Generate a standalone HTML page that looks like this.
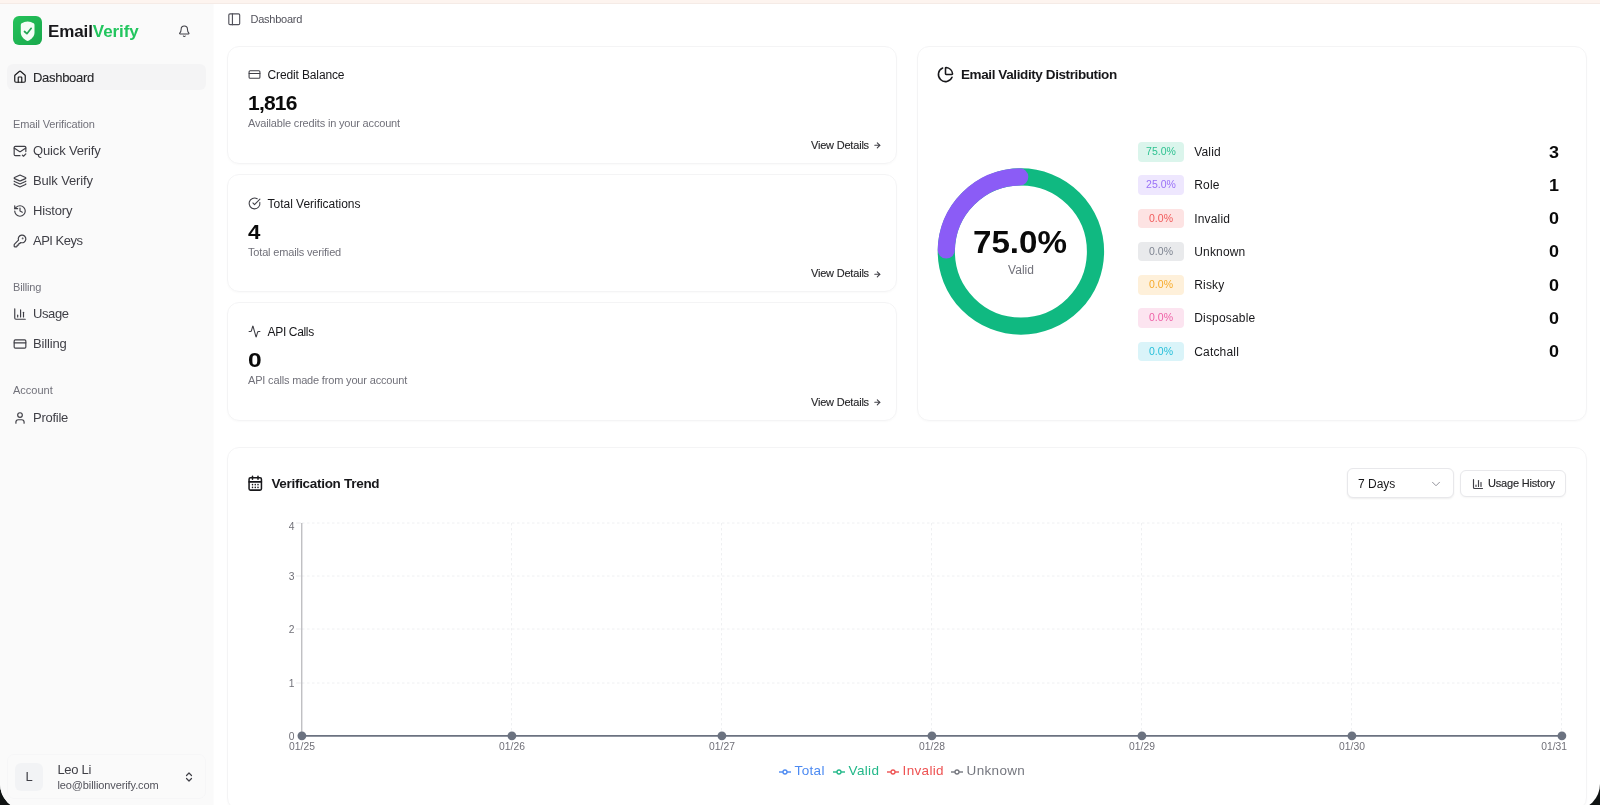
<!DOCTYPE html>
<html lang="en">
<head>
<meta charset="utf-8">
<title>Dashboard</title>
<style>
*{box-sizing:border-box;margin:0;padding:0}
html,body{width:1600px;height:805px;overflow:hidden;background:#101413}
body{font-family:"Liberation Sans",sans-serif;color:#18181b;position:relative}
#win{position:absolute;left:0;top:0;width:1600px;height:810px;background:#fff;border-radius:0 0 26px 26px;overflow:hidden}
.abs{position:absolute}
.t{position:absolute;white-space:nowrap;line-height:1}
svg{position:absolute;overflow:visible}
.ic{fill:none;stroke:#3f3f46;stroke-width:2;stroke-linecap:round;stroke-linejoin:round}
.dk{stroke:#18181b}
#topbar{z-index:2;position:absolute;left:0;top:0;width:1600px;height:3.5px;background:#fdf4ef;border-bottom:1px solid #f5ebe6}
#sidebg{position:absolute;left:0;top:3px;width:214px;height:807px;background:#fafafa;border-right:1px solid #fcfcfc}
#side{position:absolute;left:0;top:3px;width:213px;height:807px;will-change:transform}
#main{position:absolute;left:0;top:0;width:1600px;height:810px;will-change:transform}
.nav{font-size:13px;color:#3f3f46;left:33px;letter-spacing:-0.15px}
.sec{font-size:11px;color:#71717a;left:13px;letter-spacing:-0.15px}
.card{position:absolute;background:#fff;border:1px solid #f4f4f5;border-radius:12px;box-shadow:0 1px 2px rgba(0,0,0,.025)}
.ct{font-size:12px;color:#18181b;left:267.6px}
.num{font-size:21px;font-weight:bold;color:#0a0a0a;left:248px;transform-origin:0 50%}
.desc{font-size:11px;color:#71717a;left:248px;letter-spacing:-0.17px}
.vd{font-size:11px;color:#27272a;left:811px;letter-spacing:-0.2px;-webkit-text-stroke:0.12px #27272a}
.badge{position:absolute;left:1138px;width:46px;height:19.4px;border-radius:4px;font-size:10.5px;line-height:19.4px;text-align:center}
.badge span{opacity:.85}
.lbl{font-size:12px;color:#18181b;left:1194.2px;letter-spacing:0.18px}
.cnt{font-size:16px;font-weight:bold;color:#0a0a0a;right:40.8px;transform:scaleX(1.12);transform-origin:100% 50%}
.ax{font-size:10.3px;color:#707078}
</style>
</head>
<body>
<div id="win">
<div id="topbar"></div>
<div id="sidebg"></div>
<div id="side">
<svg style="left:13.4px;top:13.3px" width="29" height="29" viewBox="0 0 29 29"><defs><linearGradient id="lg" x1="0" y1="0" x2="1" y2="1"><stop offset="0" stop-color="#25c25a"/><stop offset="1" stop-color="#18a84c"/></linearGradient></defs><rect x="0" y="0" width="29" height="29" rx="6" fill="url(#lg)"/><path d="M14.65 5.4 C12.5 5.6 10.2 6.2 8.6 7.2 C8 7.6 7.8 8.2 7.8 9 L7.8 16.5 C7.8 20.5 10.8 23.3 14.65 25.1 C18.5 23.3 21.5 20.5 21.5 16.5 L21.5 9 C21.5 8.2 21.3 7.6 20.7 7.2 C19.1 6.2 16.8 5.6 14.65 5.4 Z" fill="#f3fdf6"/><path d="M11.5 15.5 L13.9 17.7 L18.2 12.3" fill="none" stroke="#21a652" stroke-width="1.7" stroke-linecap="round" stroke-linejoin="round"/></svg>
<div class="t" style="left:48px;top:20px;font-size:17px;font-weight:bold;color:#18181b;letter-spacing:-0.1px">Email<span style="color:#22c55e">Verify</span></div>
<svg style="left:178px;top:21.7px" width="12.6" height="12.6" viewBox="0 0 24 24" class="ic"><path d="M10.27 21a2 2 0 0 0 3.46 0"/><path d="M3.26 15.33A1 1 0 0 0 4 17h16a1 1 0 0 0 .74-1.67C19.41 13.96 18 12.50 18 8A6 6 0 0 0 6 8c0 4.50-1.41 5.96-2.74 7.33"/></svg>
<div class="abs" style="left:7px;top:61px;width:199px;height:26px;border-radius:6px;background:#f4f4f5"></div>
<svg style="left:13px;top:67px" width="14" height="14" viewBox="0 0 24 24" class="ic dk"><path d="M15 21v-8a1 1 0 0 0-1-1h-4a1 1 0 0 0-1 1v8"/><path d="M3 10a2 2 0 0 1 .709-1.53l7-6.00a2 2 0 0 1 2.58 0l7 6.00A2 2 0 0 1 21 10v9a2 2 0 0 1-2 2H5a2 2 0 0 1-2-2z"/></svg>
<div class="t nav" style="top:68px;color:#18181b;letter-spacing:-0.3px;color:#27272a;-webkit-text-stroke:0.12px #27272a">Dashboard</div>
<div class="t sec" style="top:116px">Email Verification</div>
<svg style="left:13px;top:141px" width="14" height="14" viewBox="0 0 24 24" class="ic"><path d="M22 13V6a2 2 0 0 0-2-2H4a2 2 0 0 0-2 2v12c0 1.10.9 2 2 2h8"/><path d="m22 7-8.97 5.70a1.94 1.94 0 0 1-2.06 0L2 7"/><path d="m16 19 2 2 4-4"/></svg>
<div class="t nav" style="top:140.7px">Quick Verify</div>
<svg style="left:13px;top:171px" width="14" height="14" viewBox="0 0 24 24" class="ic"><path d="M12.83 2.18a2 2 0 0 0-1.66 0L2.60 6.08a1 1 0 0 0 0 1.83l8.58 3.91a2 2 0 0 0 1.66 0l8.58-3.90a1 1 0 0 0 0-1.83z"/><path d="M2 12a1 1 0 0 0 .58.91l8.60 3.91a2 2 0 0 0 1.65 0l8.58-3.90A1 1 0 0 0 22 12"/><path d="M2 17a1 1 0 0 0 .58.91l8.60 3.91a2 2 0 0 0 1.65 0l8.58-3.90A1 1 0 0 0 22 17"/></svg>
<div class="t nav" style="top:170.7px">Bulk Verify</div>
<svg style="left:13px;top:201px" width="14" height="14" viewBox="0 0 24 24" class="ic"><path d="M3 12a9 9 0 1 0 9-9 9.75 9.75 0 0 0-6.74 2.74L3 8"/><path d="M3 3v5h5"/><path d="M12 7v5l4 2"/></svg>
<div class="t nav" style="top:200.7px">History</div>
<svg style="left:13px;top:231px" width="14" height="14" viewBox="0 0 24 24" class="ic"><path d="M2.59 17.41A2 2 0 0 0 2 18.83V21a1 1 0 0 0 1 1h3a1 1 0 0 0 1-1v-1a1 1 0 0 1 1-1h1a1 1 0 0 0 1-1v-1a1 1 0 0 1 1-1h.172a2 2 0 0 0 1.41-.586l.814-.814a6.50 6.50 0 1 0-4-4z"/><circle cx="16.50" cy="7.50" r=".5" fill="#3f3f46"/></svg>
<div class="t nav" style="top:230.7px;letter-spacing:-0.5px">API Keys</div>
<div class="t sec" style="top:279px">Billing</div>
<svg style="left:13px;top:304px" width="14" height="14" viewBox="0 0 24 24" class="ic"><path d="M3 3v16a2 2 0 0 0 2 2h16"/><path d="M18 17V9"/><path d="M13 17V5"/><path d="M8 17v-3"/></svg>
<div class="t nav" style="top:303.7px;letter-spacing:-0.4px">Usage</div>
<svg style="left:13px;top:334px" width="14" height="14" viewBox="0 0 24 24" class="ic"><rect width="20" height="14" x="2" y="5" rx="2"/><line x1="2" x2="22" y1="10" y2="10"/></svg>
<div class="t nav" style="top:333.7px">Billing</div>
<div class="t sec" style="top:382.3px;letter-spacing:0">Account</div>
<svg style="left:13px;top:408px" width="14" height="14" viewBox="0 0 24 24" class="ic"><path d="M19 21v-2a4 4 0 0 0-4-4H9a4 4 0 0 0-4 4v2"/><circle cx="12" cy="7" r="4"/></svg>
<div class="t nav" style="top:407.7px;letter-spacing:-0.25px">Profile</div>
<div class="abs" style="left:7px;top:751px;width:199px;height:45px;border-radius:7px;border:1px solid #f6f6f7"></div>
<div class="abs" style="left:15px;top:760px;width:28px;height:28px;border-radius:6px;background:#f2f3f5"></div>
<div class="t" style="left:15px;top:767px;width:28px;text-align:center;font-size:13px;color:#3f3f46">L</div>
<div class="t" style="left:57.4px;top:759.8px;font-size:13px;color:#3f3f46;letter-spacing:-0.3px">Leo Li</div>
<div class="t" style="left:57.4px;top:777px;font-size:11px;color:#52525b;letter-spacing:-0.1px">leo@billionverify.com</div>
<svg style="left:183px;top:767.8px;stroke-width:2.4" width="12" height="12" viewBox="0 0 24 24" class="ic"><path d="m7 15 5 5 5-5"/><path d="m7 9 5-5 5 5"/></svg>
</div>
<div id="main">
<svg style="left:226.8px;top:11.8px;stroke-width:1.9;stroke:#52525b" width="14.5" height="14.5" viewBox="0 0 24 24" class="ic"><rect width="18" height="18" x="3" y="3" rx="2"/><path d="M9 3v18"/></svg>
<div class="t" style="left:250.5px;top:14px;font-size:11px;color:#52525b;letter-spacing:-0.25px">Dashboard</div>
<div class="card" style="left:227px;top:46px;width:670px;height:118px"></div>
<svg style="left:247.6px;top:68.20px" width="13" height="13" viewBox="0 0 24 24" class="ic"><rect width="20" height="14" x="2" y="5" rx="2"/><line x1="2" x2="22" y1="10" y2="10"/></svg>
<div class="t ct" style="top:68.8px;letter-spacing:-0.14px">Credit Balance</div>
<div class="t num" style="top:91.8px;letter-spacing:-0.8px">1,816</div>
<div class="t desc" style="top:117.8px">Available credits in your account</div>
<div class="t vd" style="top:139.5px">View Details</div>
<svg style="left:873.2px;top:140.7px;stroke-width:3.1" width="8.6" height="8.6" viewBox="0 0 24 24" class="ic"><path d="M5 12h14"/><path d="m12 5 7 7-7 7"/></svg>
<div class="card" style="left:227px;top:174px;width:670px;height:118px"></div>
<svg style="left:247.6px;top:197.0px" width="13" height="13" viewBox="0 0 24 24" class="ic"><path d="M21.80 10A10 10 0 1 1 17 3.33"/><path d="m9 11 3 3L22 4"/></svg>
<div class="t ct" style="top:197.6px;letter-spacing:-0.03px">Total Verifications</div>
<div class="t num" style="top:220.6px;transform:scaleX(1.06)">4</div>
<div class="t desc" style="top:246.6px">Total emails verified</div>
<div class="t vd" style="top:268.3px">View Details</div>
<svg style="left:873.2px;top:269.5px;stroke-width:3.1" width="8.6" height="8.6" viewBox="0 0 24 24" class="ic"><path d="M5 12h14"/><path d="m12 5 7 7-7 7"/></svg>
<div class="card" style="left:227px;top:302px;width:670px;height:119px"></div>
<svg style="left:247.6px;top:325.2px" width="13" height="13" viewBox="0 0 24 24" class="ic"><path d="M22 12h-2.48a2 2 0 0 0-1.93 1.46l-2.35 8.36a.250.25 0 0 1-.480 0L9.24 2.18a.250.25 0 0 0-.480 0l-2.35 8.36A2 2 0 0 1 4.49 12H2"/></svg>
<div class="t ct" style="top:325.8px;letter-spacing:-0.35px">API Calls</div>
<div class="t num" style="top:348.8px;transform:scaleX(1.17)">0</div>
<div class="t desc" style="top:374.8px">API calls made from your account</div>
<div class="t vd" style="top:396.5px">View Details</div>
<svg style="left:873.2px;top:397.70px;stroke-width:3.1" width="8.6" height="8.6" viewBox="0 0 24 24" class="ic"><path d="M5 12h14"/><path d="m12 5 7 7-7 7"/></svg>
<div class="card" style="left:917px;top:46px;width:670px;height:375px"></div>
<svg style="left:937.3px;top:66.3px;stroke-width:2.2" width="17" height="17" viewBox="0 0 24 24" class="ic dk"><path d="M21 12c.552 0 1.00-.449.95-.998a10 10 0 0 0-8.95-8.95c-.550-.055-.998.40-.998.95v8a1 1 0 0 0 1 1z"/><path d="M21.21 15.89A10 10 0 1 1 8 2.83"/></svg>
<div class="t" style="left:961px;top:68px;font-size:13.5px;font-weight:bold;color:#18181b;letter-spacing:-0.4px">Email Validity Distribution</div>
<svg style="left:0;top:0" width="1600" height="805"><circle cx="1020.9" cy="251.5" r="74.6" fill="none" stroke="#10b981" stroke-width="17.2"/><circle cx="1020.9" cy="251.5" r="74.6" fill="none" stroke="#8b5cf6" stroke-width="17.2" stroke-linecap="round" stroke-dasharray="114.18 468.73" transform="rotate(181.2 1020.9 251.5)"/></svg>
<div class="t" style="left:919.6px;width:200px;text-align:center;top:227px;font-size:31px;font-weight:bold;color:#0a0a0a;transform:scaleX(1.07)">75.0%</div>
<div class="t" style="left:921px;width:200px;text-align:center;top:264px;font-size:12px;color:#71717a">Valid</div>
<div class="badge" style="top:142.2px;background:#dbf5ec;color:#10b981"><span>75.0%</span></div>
<div class="t lbl" style="top:146.2px">Valid</div>
<div class="t cnt" style="top:144.7px">3</div>
<div class="badge" style="top:175.4px;background:#eee7fe;color:#8b5cf6"><span>25.0%</span></div>
<div class="t lbl" style="top:179.4px">Role</div>
<div class="t cnt" style="top:177.9px">1</div>
<div class="badge" style="top:208.7px;background:#fde3e3;color:#ef4444"><span>0.0%</span></div>
<div class="t lbl" style="top:212.7px">Invalid</div>
<div class="t cnt" style="top:211.2px">0</div>
<div class="badge" style="top:241.9px;background:#e9eaec;color:#6b7280"><span>0.0%</span></div>
<div class="t lbl" style="top:245.9px">Unknown</div>
<div class="t cnt" style="top:244.4px">0</div>
<div class="badge" style="top:275.2px;background:#fef0da;color:#f59e0b"><span>0.0%</span></div>
<div class="t lbl" style="top:279.2px">Risky</div>
<div class="t cnt" style="top:277.7px">0</div>
<div class="badge" style="top:308.4px;background:#fce4f0;color:#ec4899"><span>0.0%</span></div>
<div class="t lbl" style="top:312.4px">Disposable</div>
<div class="t cnt" style="top:310.9px">0</div>
<div class="badge" style="top:341.7px;background:#daf4f9;color:#06b6d4"><span>0.0%</span></div>
<div class="t lbl" style="top:345.7px">Catchall</div>
<div class="t cnt" style="top:344.2px">0</div>
<div class="card" style="left:227px;top:447px;width:1360px;height:363px"></div>
<svg style="left:247.2px;top:475px;stroke-width:2.2" width="16.5" height="16.5" viewBox="0 0 24 24" class="ic dk"><path d="M8 2v4"/><path d="M16 2v4"/><rect width="18" height="18" x="3" y="4" rx="2"/><path d="M3 10h18"/><path d="M8 14h.01"/><path d="M12 14h.01"/><path d="M16 14h.01"/><path d="M8 18h.01"/><path d="M12 18h.01"/><path d="M16 18h.01"/></svg>
<div class="t" style="left:271.4px;top:476.6px;font-size:13.5px;font-weight:bold;color:#18181b;letter-spacing:-0.3px">Verification Trend</div>
<div class="abs" style="left:1347px;top:468px;width:107px;height:30px;border:1px solid #e8e8eb;border-radius:6px;background:#fff;box-shadow:0 1px 2px rgba(0,0,0,.07)"></div>
<div class="t" style="left:1358px;top:477.7px;font-size:12px;color:#18181b">7 Days</div>
<svg style="left:1429.2px;top:477.3px;stroke:#8b8b93;stroke-width:1.6" width="14" height="14" viewBox="0 0 24 24" class="ic"><path d="m6 9 6 6 6-6"/></svg>
<div class="abs" style="left:1460px;top:470px;width:106px;height:27px;border:1px solid #e8e8eb;border-radius:6px;background:#fff;box-shadow:0 1px 2px rgba(0,0,0,.04)"></div>
<svg style="left:1471.6px;top:477.6px;stroke-width:2.3" width="12" height="12" viewBox="0 0 24 24" class="ic"><path d="M3 3v16a2 2 0 0 0 2 2h16"/><path d="M18 17V9"/><path d="M13 17V5"/><path d="M8 17v-3"/></svg>
<div class="t" style="left:1488px;top:478px;font-size:11px;color:#27272a;letter-spacing:-0.18px;-webkit-text-stroke:0.15px #27272a">Usage History</div>
<svg style="left:0;top:0" width="1600" height="805"><line x1="302" x2="1562" y1="523" y2="523" stroke="#eff0f2" stroke-width="1" stroke-dasharray="2.5 2.5"/><line x1="296" x2="301" y1="523" y2="523" stroke="#ebebed" stroke-width="1"/><line x1="302" x2="1562" y1="576" y2="576" stroke="#eff0f2" stroke-width="1" stroke-dasharray="2.5 2.5"/><line x1="296" x2="301" y1="576" y2="576" stroke="#ebebed" stroke-width="1"/><line x1="302" x2="1562" y1="629" y2="629" stroke="#eff0f2" stroke-width="1" stroke-dasharray="2.5 2.5"/><line x1="296" x2="301" y1="629" y2="629" stroke="#ebebed" stroke-width="1"/><line x1="302" x2="1562" y1="683" y2="683" stroke="#eff0f2" stroke-width="1" stroke-dasharray="2.5 2.5"/><line x1="296" x2="301" y1="683" y2="683" stroke="#ebebed" stroke-width="1"/><line x1="511.5" x2="511.5" y1="523" y2="736" stroke="#eff0f2" stroke-width="1" stroke-dasharray="2.5 2.5"/><line x1="721.5" x2="721.5" y1="523" y2="736" stroke="#eff0f2" stroke-width="1" stroke-dasharray="2.5 2.5"/><line x1="931.5" x2="931.5" y1="523" y2="736" stroke="#eff0f2" stroke-width="1" stroke-dasharray="2.5 2.5"/><line x1="1141.5" x2="1141.5" y1="523" y2="736" stroke="#eff0f2" stroke-width="1" stroke-dasharray="2.5 2.5"/><line x1="1351.5" x2="1351.5" y1="523" y2="736" stroke="#eff0f2" stroke-width="1" stroke-dasharray="2.5 2.5"/><line x1="1561.5" x2="1561.5" y1="523" y2="736" stroke="#eff0f2" stroke-width="1" stroke-dasharray="2.5 2.5"/><line x1="301.8" x2="301.8" y1="523" y2="736" stroke="#a6a6aa" stroke-width="1"/><line x1="302" x2="1562" y1="735.8" y2="735.8" stroke="#6b7280" stroke-width="1.8"/><circle cx="301.9" cy="735.8" r="4.4" fill="#6b7280"/><circle cx="511.9" cy="735.8" r="4.4" fill="#6b7280"/><circle cx="721.9" cy="735.8" r="4.4" fill="#6b7280"/><circle cx="931.9" cy="735.8" r="4.4" fill="#6b7280"/><circle cx="1141.9" cy="735.8" r="4.4" fill="#6b7280"/><circle cx="1351.9" cy="735.8" r="4.4" fill="#6b7280"/><circle cx="1561.9" cy="735.8" r="4.4" fill="#6b7280"/></svg>
<div class="t ax" style="left:279.5px;width:15px;text-align:right;top:522px">4</div>
<div class="t ax" style="left:279.5px;width:15px;text-align:right;top:572px">3</div>
<div class="t ax" style="left:279.5px;width:15px;text-align:right;top:625.3px">2</div>
<div class="t ax" style="left:279.5px;width:15px;text-align:right;top:679px">1</div>
<div class="t ax" style="left:279.5px;width:15px;text-align:right;top:732px">0</div>
<div class="t ax" style="left:272.0px;width:60px;text-align:center;top:742px">01/25</div>
<div class="t ax" style="left:482.0px;width:60px;text-align:center;top:742px">01/26</div>
<div class="t ax" style="left:692.0px;width:60px;text-align:center;top:742px">01/27</div>
<div class="t ax" style="left:902.0px;width:60px;text-align:center;top:742px">01/28</div>
<div class="t ax" style="left:1112.0px;width:60px;text-align:center;top:742px">01/29</div>
<div class="t ax" style="left:1322.0px;width:60px;text-align:center;top:742px">01/30</div>
<div class="t ax" style="left:1517.0px;width:50px;text-align:right;top:742px">01/31</div>
<svg style="left:779px;top:766px" width="12" height="12" viewBox="0 0 12 12"><line x1="0" x2="12" y1="6" y2="6" stroke="#4c8af2" stroke-width="1.4"/><circle cx="6" cy="6" r="2" fill="#fff" stroke="#4c8af2" stroke-width="1.3"/></svg>
<div class="t" style="left:794.6px;top:764.3px;font-size:13.5px;letter-spacing:0.32px;color:#4c8af2">Total</div>
<svg style="left:833px;top:766px" width="12" height="12" viewBox="0 0 12 12"><line x1="0" x2="12" y1="6" y2="6" stroke="#22b889" stroke-width="1.4"/><circle cx="6" cy="6" r="2" fill="#fff" stroke="#22b889" stroke-width="1.3"/></svg>
<div class="t" style="left:848.6px;top:764.3px;font-size:13.5px;letter-spacing:0.32px;color:#22b889">Valid</div>
<svg style="left:887px;top:766px" width="12" height="12" viewBox="0 0 12 12"><line x1="0" x2="12" y1="6" y2="6" stroke="#ee5252" stroke-width="1.4"/><circle cx="6" cy="6" r="2" fill="#fff" stroke="#ee5252" stroke-width="1.3"/></svg>
<div class="t" style="left:902.6px;top:764.3px;font-size:13.5px;letter-spacing:0.32px;color:#ee5252">Invalid</div>
<svg style="left:951px;top:766px" width="12" height="12" viewBox="0 0 12 12"><line x1="0" x2="12" y1="6" y2="6" stroke="#75777f" stroke-width="1.4"/><circle cx="6" cy="6" r="2" fill="#fff" stroke="#75777f" stroke-width="1.3"/></svg>
<div class="t" style="left:966.6px;top:764.3px;font-size:13.5px;letter-spacing:0.32px;color:#75777f">Unknown</div>
</div>
</div>
</body>
</html>
